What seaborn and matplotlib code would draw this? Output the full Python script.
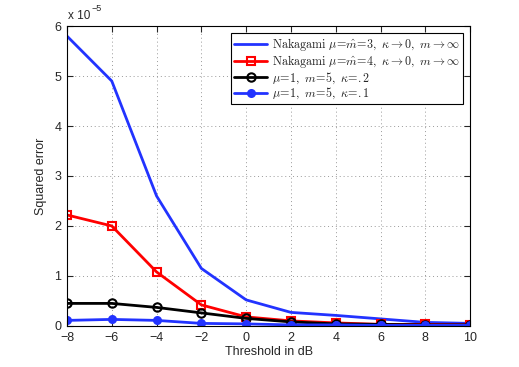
import matplotlib
matplotlib.use("Agg")
import matplotlib.pyplot as plt
import seaborn as sns
import pandas as pd
import numpy as np

sns.set_style("ticks")
plt.rcParams['font.family'] = ['Liberation Sans', 'DejaVu Sans']
plt.rcParams['mathtext.fontset'] = 'cm'

thresholds = [-8, -6, -4, -2, 0, 2, 4, 6, 8, 10]
nak3 = [5.8, 4.9, 2.6, 1.15, 0.52, 0.27, 0.21, 0.14, 0.07, 0.05]
nak4 = [2.22, 2.0, 1.08, 0.42, 0.18, 0.10, 0.06, 0.03, 0.03, 0.02]
k02 = [0.45, 0.45, 0.37, 0.26, 0.15, 0.08, 0.04, 0.03, 0.02, 0.02]
k01 = [0.11, 0.13, 0.11, 0.05, 0.04, 0.02, 0.02, 0.01, 0.01, 0.01]
labels = [
    r'$\mathrm{Nakagami}\ \mu\!=\!\hat{m}\!=\!3,\ \kappa\rightarrow 0,\ m\rightarrow\infty$',
    r'$\mathrm{Nakagami}\ \mu\!=\!\hat{m}\!=\!4,\ \kappa\rightarrow 0,\ m\rightarrow\infty$',
    r'$\mu\!=\!1,\ m\!=\!5,\ \kappa\!=\!.2$',
    r'$\mu\!=\!1,\ m\!=\!5,\ \kappa\!=\!.1$',
]
scale = 1e-5

fig = plt.figure(figsize=(5.19, 3.67), dpi=100)
ax = fig.add_axes([0.129, 0.112, 0.777, 0.817])

series = [nak3, nak4, k02, k01]
colors = ['#2233ff', '#ff0000', '#000000', '#2233ff']
markers = [None, 's', 'o', 'o']
msizes = [0, 5.5, 6, 5]
mfc = [None, 'none', 'none', '#2233ff']
for vals, lab, c, m, ms, f in zip(series, labels, colors, markers, msizes, mfc):
    df = pd.DataFrame({'x': thresholds, 'y': np.array(vals) * scale})
    kw = dict(x='x', y='y', data=df, ax=ax, color=c, linewidth=2, label=lab)
    if m is not None:
        kw.update(marker=m, markersize=ms, markerfacecolor=f, markeredgecolor=c, markeredgewidth=1.5)
    sns.lineplot(**kw)

ax.set_xlim(-8, 10)
ax.set_ylim(0, 6e-5)
ax.set_xticks(thresholds)
ax.set_yticks(np.arange(0, 7) * 1e-5)
ax.set_yticklabels([str(i) for i in range(7)])
ax.text(0.003, 1.012, 'x 10', transform=ax.transAxes, fontsize=8.5, ha='left', va='bottom')
ax.text(0.062, 1.042, '\u22125', transform=ax.transAxes, fontsize=6.5, ha='left', va='bottom')
ax.set_xticklabels(['\u22128', '\u22126', '\u22124', '\u22122', '0', '2', '4', '6', '8', '10'])
ax.tick_params(direction='in', top=True, right=True, labelsize=9, length=4)
ax.tick_params(axis='x', pad=4.5)
ax.tick_params(axis='y', pad=4)
ax.grid(True, linestyle=(0, (1, 3)), color='#999999', linewidth=0.7)
for s in ax.spines.values():
    s.set_linewidth(0.8)
    s.set_color('black')
ax.set_xlabel('Threshold in dB', fontsize=9, labelpad=1)
ax.set_ylabel('Squared error', fontsize=9, labelpad=5)

leg = ax.legend(loc='upper right', fontsize=8.7, frameon=True, fancybox=False,
                edgecolor='black', framealpha=1, borderpad=0.25, labelspacing=0.0,
                handlelength=2.7, handletextpad=0.4, borderaxespad=0.6)
leg.get_frame().set_linewidth(0.8)

fig.savefig('out.png', dpi=100)
